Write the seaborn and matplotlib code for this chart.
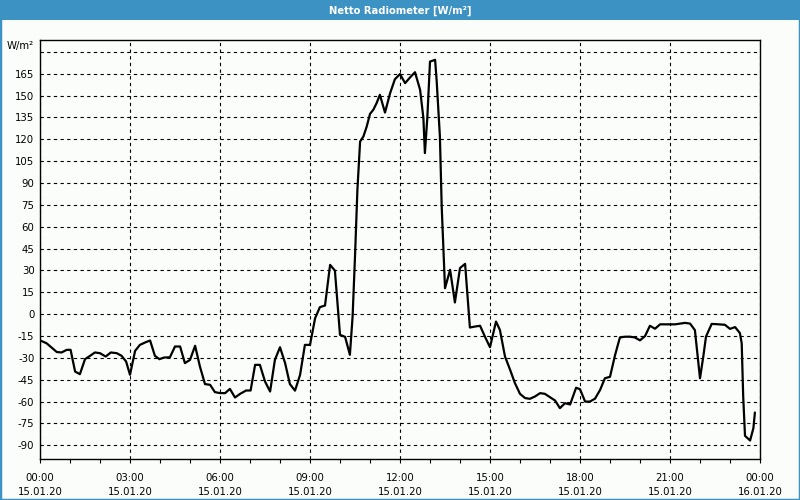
import matplotlib
matplotlib.use("Agg")
import matplotlib.pyplot as plt
from matplotlib.patches import Rectangle
from matplotlib.ticker import MultipleLocator
import seaborn as sns

# ---- data (hours since 15.01.20 00:00, W/m²) ----
hours = [0.00, 0.22, 0.56, 0.72, 0.89, 1.02, 1.17, 1.33, 1.50, 1.67, 1.83, 2.00,
         2.19, 2.36, 2.56, 2.72, 2.87, 3.00, 3.17, 3.33, 3.53, 3.67, 3.83, 3.98,
         4.13, 4.33, 4.50, 4.67, 4.83, 5.00, 5.17, 5.33, 5.50, 5.67, 5.83, 6.00,
         6.17, 6.33, 6.50, 6.67, 6.87, 7.02, 7.17, 7.33, 7.50, 7.67, 7.83, 8.00,
         8.17, 8.33, 8.50, 8.67, 8.83, 9.00, 9.17, 9.33, 9.50, 9.67, 9.83, 10.00,
         10.17, 10.33, 10.42, 10.50, 10.58, 10.67, 10.78, 10.89, 11.00, 11.11, 11.22, 11.33,
         11.50, 11.67, 11.83, 12.00, 12.17, 12.33, 12.50, 12.67, 12.78, 12.83, 12.91, 13.00,
         13.17, 13.22, 13.33, 13.39, 13.50, 13.67, 13.83, 14.00, 14.17, 14.33, 14.50, 14.67,
         14.83, 15.00, 15.20, 15.33, 15.50, 15.67, 15.83, 16.00, 16.17, 16.33, 16.50, 16.67,
         16.83, 17.00, 17.17, 17.33, 17.50, 17.67, 17.87, 18.00, 18.17, 18.33, 18.50, 18.67,
         18.83, 19.00, 19.17, 19.33, 19.50, 19.67, 19.83, 20.00, 20.17, 20.33, 20.50, 20.67,
         20.83, 21.00, 21.17, 21.33, 21.50, 21.67, 21.83, 22.00, 22.11, 22.20, 22.39, 22.56,
         22.83, 23.00, 23.17, 23.33, 23.39, 23.44, 23.50, 23.67, 23.78, 23.83]
values = [-18.0, -20.0, -26.0, -26.3, -24.5, -24.5, -39.4, -41.2, -30.9, -28.6, -26.3, -26.8,
          -29.1, -26.3, -26.8, -28.6, -32.5, -41.6, -25.2, -21.1, -19.2, -18.1, -28.6, -30.9,
          -29.8, -29.6, -22.2, -22.2, -33.6, -31.4, -21.7, -35.9, -48.0, -48.5, -53.5, -54.2,
          -54.2, -51.3, -57.2, -54.7, -52.4, -52.4, -34.8, -34.8, -46.2, -53.1, -31.4, -22.7,
          -33.6, -48.0, -52.5, -41.6, -21.1, -21.1, -2.8, 4.8, 5.9, 33.8, 29.9, -14.2,
          -15.6, -27.9, -1.6, 39.5, 85.3, 118.4, 121.9, 128.7, 137.4, 140.2, 144.8, 150.5,
          138.3, 151.6, 161.2, 164.7, 158.5, 162.3, 166.0, 153.9, 134.5, 110.5, 134.5, 173.3,
          174.5, 160.8, 121.9, 73.8, 17.8, 30.4, 8.0, 31.6, 34.5, -9.2, -8.5, -8.0,
          -15.4, -22.7, -5.1, -10.8, -29.1, -38.2, -47.3, -54.7, -57.6, -58.1, -56.5, -54.2,
          -54.7, -57.0, -59.3, -64.5, -61.1, -62.0, -50.5, -51.5, -60.0, -60.0, -58.0, -52.0,
          -44.0, -43.0, -28.0, -16.0, -15.5, -15.5, -16.0, -18.0, -15.0, -8.0, -10.0, -7.0,
          -7.0, -7.0, -7.0, -6.5, -6.0, -6.5, -11.0, -44.0, -29.1, -15.4, -6.7, -6.9,
          -7.3, -10.1, -8.9, -13.0, -20.0, -56.5, -83.5, -86.7, -78.2, -67.5]

x_ticks = [0, 3, 6, 9, 12, 15, 18, 21, 24]
x_labels = ["00:00\n15.01.20", "03:00\n15.01.20", "06:00\n15.01.20", "09:00\n15.01.20",
            "12:00\n15.01.20", "15:00\n15.01.20", "18:00\n15.01.20", "21:00\n15.01.20",
            "00:00\n16.01.20"]
y_ticks = list(range(-90, 181, 15))
y_labels = [str(v) if v != 180 else "" for v in y_ticks]

title = "Netto Radiometer [W/m²]"
unit = "W/m²"

# ---- style ----
sns.set_theme(style="white")
plt.rcParams["font.family"] = ["DejaVu Sans"]

BG = "#fbfdfb"
BLUE = "#3d92c4"

fig = plt.figure(figsize=(8, 5), dpi=100, facecolor=BG)
ax = fig.add_axes([40 / 800, 1 - 459 / 500, 720 / 800, 419 / 500])
ax.set_facecolor(BG)

sns.lineplot(x=hours, y=values, ax=ax, color="black", linewidth=1.6, zorder=3)

ax.set_xlim(0, 24)
ax.set_ylim(-99.4, 188.1)
ax.set_xticks(x_ticks)
ax.set_xticklabels(x_labels, linespacing=1.55)
ax.xaxis.set_minor_locator(MultipleLocator(1))
ax.set_yticks(y_ticks)
ax.set_yticklabels(y_labels)

ax.grid(True, which="major", color="black", linestyle=(0, (3, 3)), linewidth=0.8)
ax.set_axisbelow(True)

for s in ax.spines.values():
    s.set_color("black")
    s.set_linewidth(1.0)
    s.set_visible(True)

ax.tick_params(axis="x", which="both", direction="out", length=3, width=0.8,
               color="black", labelsize=7.3, pad=7, labelcolor="black", bottom=True)
ax.tick_params(axis="y", which="both", length=0, labelsize=7.3, pad=4, labelcolor="black")
ax.set_xlabel("")
ax.set_ylabel("")

# title bar
fig.patches.append(Rectangle((0, 1 - 20 / 500), 1, 20 / 500, transform=fig.transFigure,
                             facecolor=BLUE, edgecolor="none", zorder=0))
fig.text(0.5, 1 - 10.5 / 500, title, ha="center", va="center", color="white",
         fontsize=8, fontweight="bold", fontstretch="condensed",
         family=["DejaVu Sans"])
# window border
fig.patches.append(Rectangle((0, 0), 1, 1, transform=fig.transFigure,
                             facecolor="none", edgecolor=BLUE, linewidth=2.5, zorder=0))

fig.text(34 / 800, 1 - 46 / 500, unit, ha="right", va="center", fontsize=7.3, color="black")

fig.savefig("out.png", dpi=100, facecolor=BG)
